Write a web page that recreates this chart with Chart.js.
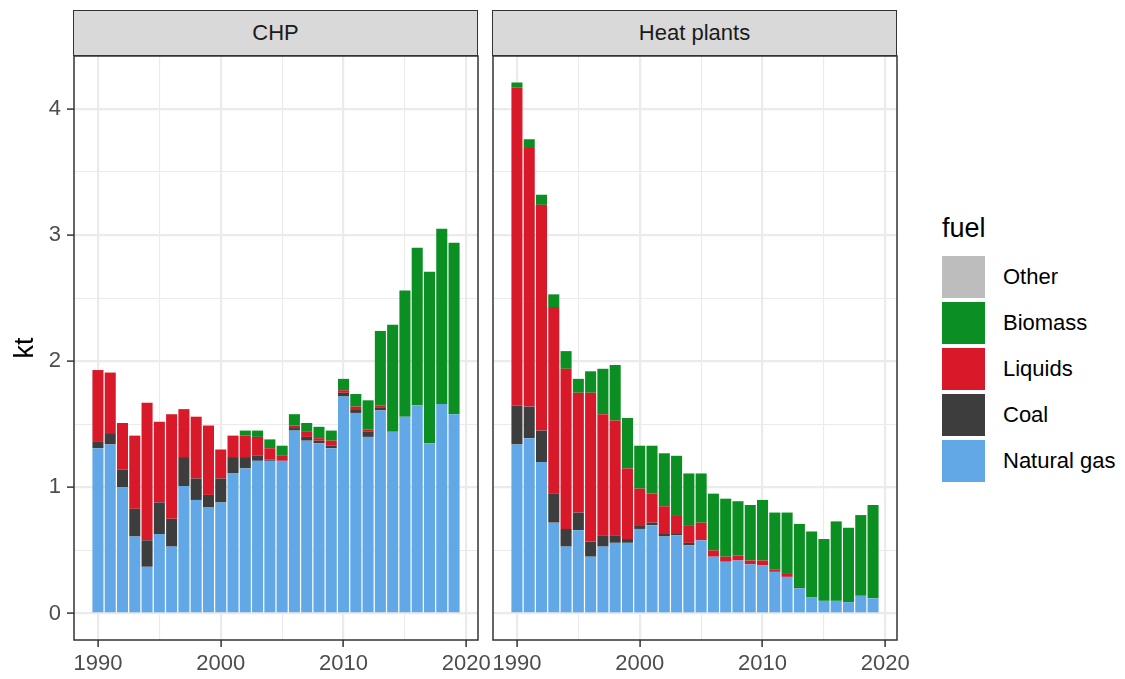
<!DOCTYPE html>
<html>
<head>
<meta charset="utf-8">
<script src="https://cdn.jsdelivr.net/npm/chart.js@4.4.1/dist/chart.umd.min.js"></script>
<style>
body { margin: 0; background: #fff; font-family: "Liberation Sans", Arial, sans-serif; }
#wrap { position: relative; width: 1125px; height: 679px; overflow: hidden; background: #fff; }
canvas { position: absolute; top: 0; }
.strip {
    position: absolute; top: 10px; height: 46px; width: 405px;
    box-sizing: border-box; background: #d9d9d9; border: 1.5px solid #333;
    color: #1a1a1a; font-size: 22px; line-height: 43px; text-align: center;
}
#legend { position: absolute; left: 942px; top: 214px; }
#legend .title { font-size: 27px; color: #000; height: 42px; line-height: 28px; }
#legend .item { position: relative; height: 46px; }
#legend .key { position: absolute; left: 0; top: 0; width: 43px; height: 42px; }
#legend .lab { position: absolute; left: 61px; top: 0; line-height: 42px; font-size: 22px; color: #000; white-space: nowrap; }
</style>
</head>
<body>
<div id="wrap">
    <canvas id="chp" width="520" height="679" style="left:0"></canvas>
    <canvas id="heat" width="460" height="679" style="left:480px"></canvas>
    <div class="strip" style="left:73px">CHP</div>
    <div class="strip" style="left:492px">Heat plants</div>
    <div id="legend"></div>
</div>
<script>
const years = [1990, 1991, 1992, 1993, 1994, 1995, 1996, 1997, 1998, 1999,
               2000, 2001, 2002, 2003, 2004, 2005, 2006, 2007, 2008, 2009,
               2010, 2011, 2012, 2013, 2014, 2015, 2016, 2017, 2018, 2019];

const fuels = ["Natural gas", "Coal", "Liquids", "Biomass", "Other"];
const fuelColors = ["#62a8e6", "#3d3d3d", "#d7192a", "#0b8f22", "#bdbdbd"];

const chpGas = [1.31, 1.34, 1.00, 0.61, 0.37, 0.63, 0.53, 1.01, 0.90, 0.84,
                0.88, 1.11, 1.15, 1.21, 1.21, 1.21, 1.45, 1.37, 1.35, 1.31,
                1.72, 1.59, 1.40, 1.61, 1.44, 1.56, 1.65, 1.35, 1.66, 1.58];
const chpCoal = [0.05, 0.09, 0.14, 0.22, 0.21, 0.25, 0.22, 0.23, 0.17, 0.10,
                 0.19, 0.13, 0.09, 0.04, 0.01, 0.00, 0.02, 0.03, 0.02, 0.02,
                 0.03, 0.03, 0.04, 0.02, 0, 0, 0, 0, 0, 0];
const chpLiquids = [0.57, 0.48, 0.37, 0.58, 1.09, 0.64, 0.83, 0.38, 0.49, 0.55,
                    0.23, 0.17, 0.17, 0.15, 0.09, 0.04, 0.02, 0.04, 0.02, 0.04,
                    0.02, 0.02, 0.02, 0.02, 0, 0, 0, 0, 0, 0];
const chpBiomass = [0, 0, 0, 0, 0, 0, 0, 0, 0, 0,
                    0, 0, 0.04, 0.05, 0.07, 0.08, 0.09, 0.07, 0.09, 0.08,
                    0.09, 0.10, 0.23, 0.59, 0.85, 1.00, 1.25, 1.36, 1.39, 1.36];
const chpOther = [0, 0, 0, 0, 0, 0, 0, 0, 0, 0, 0, 0, 0, 0, 0,
                  0, 0, 0, 0, 0, 0, 0, 0, 0, 0, 0, 0, 0, 0, 0];

const heatGas = [1.34, 1.39, 1.20, 0.72, 0.53, 0.66, 0.45, 0.53, 0.56, 0.56,
                 0.67, 0.70, 0.61, 0.62, 0.54, 0.58, 0.45, 0.41, 0.42, 0.39,
                 0.38, 0.33, 0.29, 0.20, 0.13, 0.10, 0.10, 0.09, 0.14, 0.12];
const heatCoal = [0.31, 0.25, 0.25, 0.23, 0.14, 0.14, 0.12, 0.09, 0.06, 0.03,
                  0.03, 0.02, 0.02, 0.01, 0.02, 0, 0, 0, 0, 0,
                  0, 0, 0, 0, 0, 0, 0, 0, 0, 0];
const heatLiquids = [2.52, 2.05, 1.79, 1.48, 1.27, 0.95, 1.18, 0.96, 0.91, 0.56,
                     0.29, 0.23, 0.22, 0.15, 0.14, 0.14, 0.05, 0.04, 0.04, 0.03,
                     0.04, 0.02, 0.03, 0.01, 0, 0, 0, 0, 0, 0];
const heatBiomass = [0.04, 0.07, 0.08, 0.10, 0.14, 0.11, 0.17, 0.36, 0.44, 0.40,
                     0.34, 0.38, 0.42, 0.47, 0.41, 0.39, 0.45, 0.46, 0.43, 0.44,
                     0.48, 0.45, 0.48, 0.50, 0.52, 0.49, 0.63, 0.59, 0.64, 0.74];
const heatOther = [0, 0, 0, 0, 0, 0, 0, 0, 0, 0, 0, 0, 0, 0, 0,
                   0, 0, 0, 0, 0, 0, 0, 0, 0, 0, 0, 0, 0, 0, 0];

const xTicks = [1990, 1995, 2000, 2005, 2010, 2015, 2020];
const yTicks = [0, 0.5, 1, 1.5, 2, 2.5, 3, 3.5, 4];

const majorGrid = "#ebebeb";
const axisText = "#4d4d4d";

function makeDatasets(series) {
    return series.map((vals, i) => ({
        label: fuels[i],
        data: vals.map((v, j) => ({ x: years[j], y: v })),
        backgroundColor: fuelColors[i],
        borderWidth: 0,
        barPercentage: 0.9,
        categoryPercentage: 1.0
    }));
}

const panelBorder = {
    id: "panelBorder",
    afterDraw(chart) {
        const a = chart.chartArea;
        const ctx = chart.ctx;
        ctx.save();
        ctx.strokeStyle = "#333";
        ctx.lineWidth = 1.5;
        ctx.strokeRect(a.left, a.top, a.right - a.left, a.bottom - a.top);
        ctx.restore();
    }
};

// decade ticks are major on x, whole numbers on y
function xMajor(c) { return c.tick && c.tick.value % 10 === 0; }
function yMajor(c) { return c.tick && Number.isInteger(c.tick.value); }

function drawPanel(id, series, showY, rightPad) {
    const ctx = document.getElementById(id).getContext("2d");
    return new Chart(ctx, {
        type: "bar",
        data: { datasets: makeDatasets(series) },
        plugins: [panelBorder],
        options: {
            responsive: false,
            maintainAspectRatio: false,
            animation: false,
            layout: { padding: { top: 56, right: rightPad, left: 0, bottom: 0 } },
            plugins: { legend: { display: false }, tooltip: { enabled: false } },
            scales: {
                x: {
                    type: "linear",
                    stacked: true,
                    offset: false,
                    min: 1988.05,
                    max: 2020.95,
                    afterBuildTicks: s => { s.ticks = xTicks.map(v => ({ value: v })); },
                    afterFit: s => { s.height = 39; },
                    border: { display: false },
                    grid: {
                        offset: false,
                        color: majorGrid,
                        lineWidth: c => xMajor(c) ? 2.2 : 1.1,
                        tickLength: 7,
                        tickWidth: 1.5,
                        tickColor: c => xMajor(c) ? "#333" : "rgba(0,0,0,0)"
                    },
                    ticks: {
                        autoSkip: false,
                        maxRotation: 0,
                        padding: 4,
                        color: axisText,
                        font: { family: "Liberation Sans", size: 22 },
                        callback: v => v % 10 === 0 ? String(v) : ""
                    }
                },
                y: {
                    stacked: true,
                    min: -0.2105,
                    max: 4.42,
                    afterBuildTicks: s => { s.ticks = yTicks.map(v => ({ value: v })); },
                    afterFit: s => { s.width = showY ? 74 : 13; },
                    border: { display: false },
                    title: {
                        display: showY,
                        text: "kt",
                        color: "#000",
                        font: { family: "Liberation Sans", size: 27 },
                        padding: { top: 9, bottom: 0 }
                    },
                    grid: {
                        color: majorGrid,
                        lineWidth: c => yMajor(c) ? 2.2 : 1.1,
                        drawTicks: showY,
                        tickLength: 7,
                        tickWidth: 1.5,
                        tickColor: c => yMajor(c) ? "#333" : "rgba(0,0,0,0)"
                    },
                    ticks: {
                        display: showY,
                        padding: 6,
                        color: axisText,
                        font: { family: "Liberation Sans", size: 22 },
                        callback: v => Number.isInteger(v) ? String(v) : ""
                    }
                }
            }
        }
    });
}

drawPanel("chp", [chpGas, chpCoal, chpLiquids, chpBiomass, chpOther], true, 42);
drawPanel("heat", [heatGas, heatCoal, heatLiquids, heatBiomass, heatOther], false, 43);

// legend, top entry first like ggplot (reverse of stacking order)
const legend = document.getElementById("legend");
legend.innerHTML = '<div class="title">fuel</div>';
for (let i = fuels.length - 1; i >= 0; i--) {
    const item = document.createElement("div");
    item.className = "item";
    item.innerHTML = `<div class="key" style="background:${fuelColors[i]}"></div>
                      <div class="lab">${fuels[i]}</div>`;
    legend.appendChild(item);
}
</script>
</body>
</html>
